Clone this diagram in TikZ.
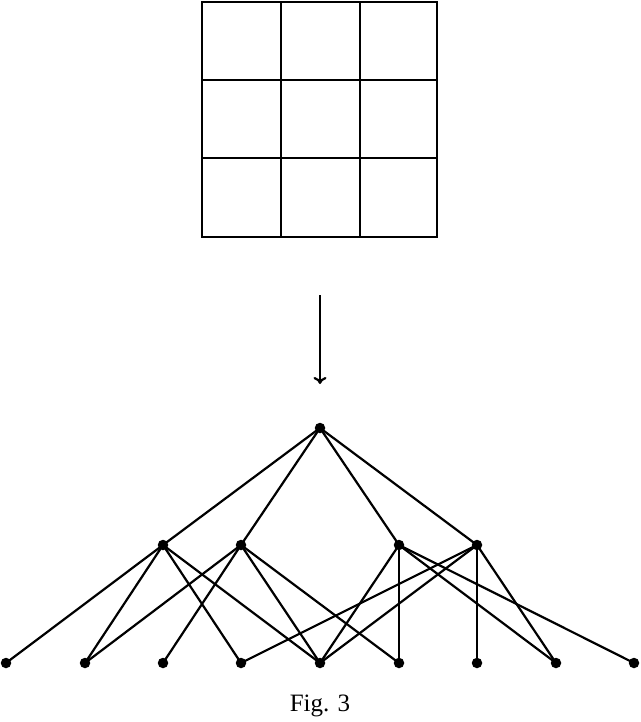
\documentclass[tikz,border=0pt]{standalone}
\usepackage{fontspec}
\setmainfont{Liberation Serif}
\usetikzlibrary{arrows.meta}
\begin{document}
\begin{tikzpicture}[x=1pt,y=-1pt,
  dot/.style={circle,fill=black,inner sep=0pt,minimum size=10.5pt},
  edge/.style={line width=2.2pt},
  gridline/.style={line width=2.6pt,line cap=rect}]
\useasboundingbox (0,0) rectangle (640,722);
% grid
\foreach \v in {202,281,360,437} {\draw[gridline] (\v,2) -- (\v,237);}
\foreach \h in {2,80,158,237} {\draw[gridline] (202,\h) -- (437,\h);}
% arrow
\coordinate (as) at (320,295);
\coordinate (ae) at (320,384);
\draw[edge,-{To[length=7pt,width=13pt]}] (as) -- (ae);
% nodes
\node[dot] (t) at (320,428) {};
\node[dot] (m1) at (163,545) {};
\node[dot] (m2) at (241,545) {};
\node[dot] (m3) at (399,545) {};
\node[dot] (m4) at (477,545) {};
\foreach \i/\x in {1/6,2/85,3/163,4/241,5/320,6/399,7/477,8/556,9/634}
  {\node[dot] (b\i) at (\x,663) {};}
% edges
\foreach \m in {m1,m2,m3,m4} {\draw[edge] (t.center) -- (\m.center);}
\foreach \b in {b1,b2,b4,b5} {\draw[edge] (m1.center) -- (\b.center);}
\foreach \b in {b2,b3,b5,b6} {\draw[edge] (m2.center) -- (\b.center);}
\foreach \b in {b5,b6,b8,b9} {\draw[edge] (m3.center) -- (\b.center);}
\foreach \b in {b4,b5,b7,b8} {\draw[edge] (m4.center) -- (\b.center);}
% caption
\node[font=\fontsize{25}{30}\selectfont] (cap) at (320,706) {Fig. 3};
\end{tikzpicture}
\end{document}
